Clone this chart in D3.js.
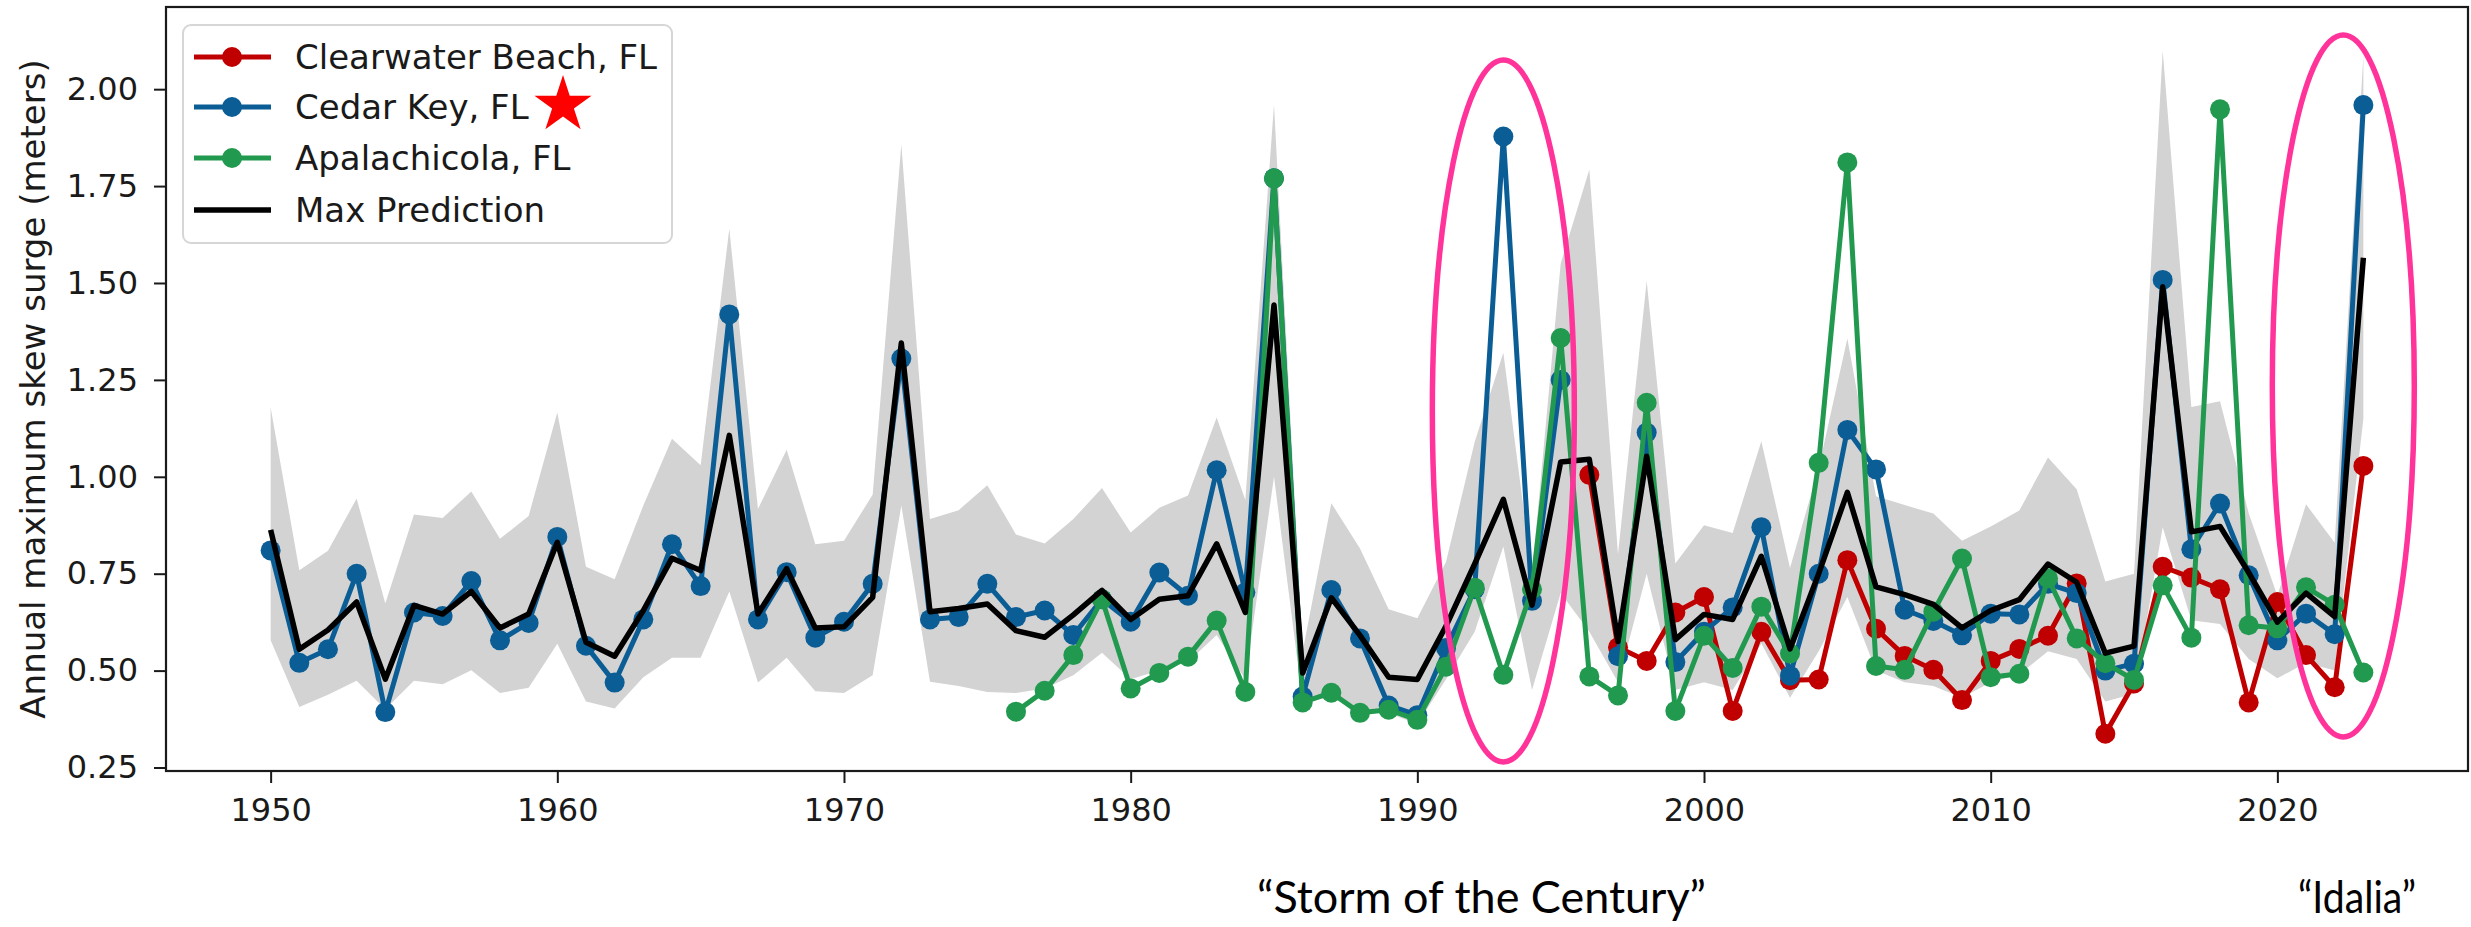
<!DOCTYPE html>
<html><head><meta charset="utf-8">
<script src="https://cdn.jsdelivr.net/npm/d3@7"></script>
<style>body{margin:0;background:#fff;} svg{display:block;}</style>
</head><body>
<svg id="chart" width="2471" height="927"></svg>
<script>
const years = [1950,1951,1952,1953,1954,1955,1956,1957,1958,1959,
  1960,1961,1962,1963,1964,1965,1966,1967,1968,1969,
  1970,1971,1972,1973,1974,1975,1976,1977,1978,1979,
  1980,1981,1982,1983,1984,1985,1986,1987,1988,1989,
  1990,1991,1992,1993,1994,1995,1996,1997,1998,1999,
  2000,2001,2002,2003,2004,2005,2006,2007,2008,2009,
  2010,2011,2012,2013,2014,2015,2016,2017,2018,2019,
  2020,2021,2022,2023];

const clearwaterBeach = [null,null,null,null,null,null,null,null,null,null,
  null,null,null,null,null,null,null,null,null,null,
  null,null,null,null,null,null,null,null,null,null,
  null,null,null,null,null,null,null,null,null,null,
  null,null,null,null,null,null,1.005,0.56,0.525,0.65,
  0.69,0.396,0.60,0.475,0.477,0.785,0.608,0.538,0.502,0.424,
  0.525,0.556,0.59,0.725,0.337,0.467,0.768,0.74,0.71,0.418,
  0.677,0.54,0.457,1.028];

const cedarKey = [0.81,0.52,0.555,0.75,0.393,0.65,0.641,0.731,0.578,0.623,
  0.845,0.564,0.469,0.632,0.826,0.718,1.419,0.632,0.754,0.585,
  0.626,0.724,1.305,0.632,0.638,0.724,0.638,0.655,0.592,0.684,
  0.626,0.753,0.693,1.017,0.702,1.77,0.433,0.708,0.583,0.41,
  0.385,0.558,0.71,1.878,0.68,1.25,null,0.537,1.114,0.522,
  0.60,0.663,0.87,0.487,0.75,1.121,1.019,0.657,0.628,0.591,
  0.647,0.645,0.724,0.70,0.50,0.518,1.508,0.813,0.931,0.746,
  0.578,0.647,0.594,1.959];

const apalachicola = [null,null,null,null,null,null,null,null,null,null,
  null,null,null,null,null,null,null,null,null,null,
  null,null,null,null,null,null,0.394,0.448,0.540,0.684,
  0.454,0.494,0.536,0.629,0.445,1.77,0.418,0.443,0.391,0.399,
  0.373,0.51,0.714,0.489,0.71,1.358,0.485,0.436,1.191,0.396,
  0.59,0.507,0.665,0.544,1.036,1.811,0.512,0.502,0.652,0.789,
  0.483,0.492,0.738,0.583,0.519,0.476,0.72,0.585,1.948,0.617,
  0.609,0.715,0.67,0.495];

const maxPrediction = [0.863,0.555,0.605,0.677,0.478,0.668,0.646,0.704,0.610,0.646,
  0.831,0.573,0.537,0.655,0.790,0.758,1.107,0.646,0.763,0.610,
  0.613,0.689,1.345,0.652,0.66,0.672,0.603,0.586,0.644,0.707,
  0.632,0.684,0.693,0.827,0.65,1.443,0.494,0.688,0.591,0.483,
  0.477,0.615,0.775,0.942,0.669,1.038,1.045,0.575,1.053,0.58,
  0.645,0.632,0.795,0.556,0.75,0.96,0.716,0.696,0.671,0.61,
  0.655,0.683,0.775,0.728,0.545,0.563,1.49,0.858,0.872,0.753,
  0.625,0.70,0.639,1.565];

const bandUpper = [1.179,0.759,0.809,0.944,0.673,0.903,0.894,0.962,0.840,0.899,
  1.166,0.768,0.736,0.926,1.098,1.030,1.64,0.917,1.070,0.826,
  0.835,0.954,1.857,0.891,0.914,0.978,0.851,0.828,0.891,0.971,
  0.856,0.920,0.952,1.153,0.94,1.96,0.55,0.932,0.815,0.658,
  0.635,0.78,1.09,1.32,0.75,1.55,1.793,0.80,1.505,0.776,
  0.875,0.855,1.092,0.765,1.023,1.357,0.95,0.927,0.905,0.835,
  0.872,0.913,1.05,0.968,0.73,0.75,2.10,1.18,1.195,0.906,
  0.693,0.929,0.83,2.086];

const bandLower = [0.578,0.406,0.438,0.474,0.40,0.474,0.465,0.501,0.442,0.456,
  0.569,0.420,0.402,0.483,0.533,0.533,0.704,0.469,0.533,0.447,
  0.442,0.488,0.926,0.471,0.46,0.445,0.442,0.454,0.488,0.546,
  0.478,0.50,0.523,0.592,0.478,1.0,0.419,0.431,0.396,0.39,
  0.362,0.478,0.60,0.82,0.45,0.70,0.60,0.47,0.75,0.45,
  0.47,0.45,0.57,0.43,0.55,0.69,0.50,0.47,0.46,0.43,
  0.47,0.49,0.55,0.53,0.42,0.44,0.87,0.63,0.62,0.53,
  0.48,0.52,0.50,1.15];

const xTicks = [1950,1960,1970,1980,1990,2000,2010,2020];
const yTicks = [0.25,0.50,0.75,1.00,1.25,1.50,1.75,2.00];
const seriesNames = ["Clearwater Beach, FL","Cedar Key, FL","Apalachicola, FL","Max Prediction"];
const yLabel = "Annual maximum skew surge (meters)";
const annotations = ["\u201cStorm of the Century\u201d", "\u201cIdalia\u201d"];
const highlightYears = [1993, 2022.3];

const W = 2471, H = 927;
const m = {left:166, right:2468, top:7, bottom:771};
const x = d3.scaleLinear().domain([1946.35, 2026.65]).range([m.left, m.right]);
const y = d3.scaleLinear().domain([0.241, 2.212]).range([m.bottom, m.top]);

const svg = d3.select('#chart');
svg.append('rect').attr('width', W).attr('height', H).attr('fill', '#fff');
svg.append('defs').append('clipPath').attr('id', 'clip')
  .append('rect').attr('x', m.left).attr('y', m.top)
  .attr('width', m.right - m.left).attr('height', m.bottom - m.top);

const g = svg.append('g').attr('clip-path', 'url(#clip)');

// uncertainty band
const area = d3.area()
  .x((d, i) => x(years[i]))
  .y0((d, i) => y(bandLower[i]))
  .y1((d, i) => y(bandUpper[i]));
g.append('path').datum(years).attr('d', area).attr('fill', '#d3d3d3');

const series = [
  {name: seriesNames[0], values: clearwaterBeach, color: '#c00000', marker: true},
  {name: seriesNames[1], values: cedarKey, color: '#0b5d95', marker: true},
  {name: seriesNames[2], values: apalachicola, color: '#21994f', marker: true},
  {name: seriesNames[3], values: maxPrediction, color: '#000000', marker: false}
];

const line = d3.line()
  .defined(d => d.v != null)
  .x(d => x(d.year))
  .y(d => y(d.v));

series.forEach(s => {
  const pts = years.map((yr, i) => ({year: yr, v: s.values[i]}));
  g.append('path').datum(pts).attr('d', line)
    .attr('fill', 'none').attr('stroke', s.color)
    .attr('stroke-width', s.marker ? 5 : 5.5)
    .attr('stroke-linejoin', 'round').attr('stroke-linecap', 'butt');
  if (s.marker) {
    g.selectAll(null).data(pts.filter(p => p.v != null)).enter()
      .append('circle')
      .attr('cx', d => x(d.year)).attr('cy', d => y(d.v))
      .attr('r', 10).attr('fill', s.color);
  }
});

// axes
const fontTick = "'DejaVu Sans', sans-serif";
const yAxis = svg.append('g').attr('transform', `translate(${m.left},0)`)
  .call(d3.axisLeft(y).tickValues(yTicks).tickFormat(d3.format('.2f')).tickSize(12).tickPadding(16));
const xAxis = svg.append('g').attr('transform', `translate(0,${m.bottom})`)
  .call(d3.axisBottom(x).tickValues(xTicks).tickFormat(d3.format('d')).tickSize(12).tickPadding(15));
[yAxis, xAxis].forEach(a => {
  a.select('.domain').remove();
  a.selectAll('line').attr('stroke', '#1a1a1a').attr('stroke-width', 2);
  a.selectAll('text').attr('font-family', fontTick).attr('font-size', 32).attr('fill', '#1a1a1a');
});

// frame
svg.append('rect').attr('x', m.left).attr('y', m.top)
  .attr('width', m.right - m.left).attr('height', m.bottom - m.top)
  .attr('fill', 'none').attr('stroke', '#1a1a1a').attr('stroke-width', 2.2);

// y label
svg.append('text')
  .attr('transform', `translate(33,${(m.top + m.bottom) / 2}) rotate(-90)`)
  .attr('text-anchor', 'middle').attr('dominant-baseline', 'central')
  .attr('font-family', fontTick).attr('font-size', 34).attr('fill', '#1a1a1a')
  .text(yLabel);

// legend
const lg = svg.append('g');
lg.append('rect').attr('x', 183).attr('y', 25).attr('width', 489).attr('height', 218)
  .attr('rx', 8).attr('fill', '#fff').attr('fill-opacity', 0.85)
  .attr('stroke', '#d6d6d6').attr('stroke-width', 2);
const legendY = [57, 107, 158, 210];
series.forEach((s, i) => {
  const ly = legendY[i];
  lg.append('line').attr('x1', 194).attr('x2', 271).attr('y1', ly).attr('y2', ly)
    .attr('stroke', s.color).attr('stroke-width', s.marker ? 5 : 5.5);
  if (s.marker) lg.append('circle').attr('cx', 232).attr('cy', ly).attr('r', 10).attr('fill', s.color);
  lg.append('text').attr('x', 295).attr('y', ly).attr('dy', '0.36em')
    .attr('font-family', fontTick).attr('font-size', 34).attr('fill', '#1a1a1a')
    .text(s.name);
});
// red star next to Cedar Key
lg.append('path').attr('d', d3.symbol(d3.symbolStar, 1010)())
  .attr('transform', 'translate(563,105)').attr('fill', '#ff0000');

// highlight ellipses
svg.selectAll(null).data(highlightYears).enter().append('ellipse')
  .attr('cx', d => x(d)).attr('cy', (d, i) => i === 0 ? 411 : 386)
  .attr('rx', 71).attr('ry', 351)
  .attr('fill', 'none').attr('stroke', '#ff3399').attr('stroke-width', 5.5);

// annotations
const annFont = "Lato, 'Open Sans', sans-serif";
svg.append('text').attr('x', 1257).attr('y', 913)
  .attr('font-family', annFont).attr('font-size', 44).attr('fill', '#000')
  .attr('textLength', 449).attr('lengthAdjust', 'spacingAndGlyphs')
  .text(annotations[0]);
svg.append('text').attr('x', 2298).attr('y', 913)
  .attr('font-family', annFont).attr('font-size', 44).attr('fill', '#000')
  .attr('textLength', 118).attr('lengthAdjust', 'spacingAndGlyphs')
  .text(annotations[1]);
</script>
</body></html>
